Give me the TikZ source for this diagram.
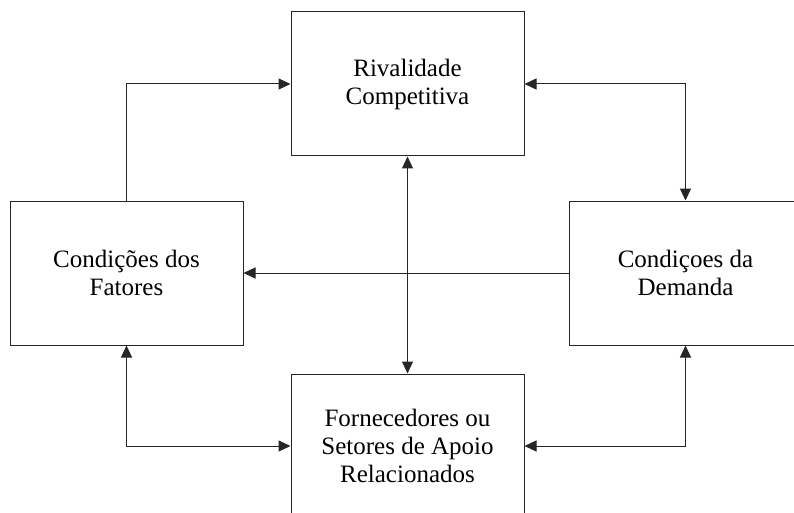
\documentclass[tikz,border=0pt]{standalone}
\usepackage{fontspec}
\setmainfont{Liberation Serif}
\usetikzlibrary{arrows.meta}
\begin{document}
\begin{tikzpicture}[x=1pt,y=-1pt,
  box/.style={draw=black!85, line width=1pt, minimum width=233pt, minimum height=144pt,
    align=center, font=\fontsize{25}{28}\selectfont, inner sep=0pt},
  link/.style={line width=1pt, draw=black!85, -{Triangle[length=12pt,width=11pt]}},
  bilink/.style={line width=1pt, draw=black!85, {Triangle[length=12pt,width=11pt]}-{Triangle[length=12pt,width=11pt]}}]
\useasboundingbox (0,0) rectangle (794,513);
\clip (0,0) rectangle (794,513);
\fill[white] (0,0) rectangle (794,513);
\node[box] (riv) at (407.5,84) {Rivalidade\\Competitiva};
\node[box] (fat) at (126.5,273) {Condições dos\\Fatores};
\node[box] (dem) at (685.5,273) {Condiçoes da\\Demanda};
\node[box] (sup) at (407.5,446) {Fornecedores ou\\Setores de Apoio\\Relacionados};
\draw[link] (fat.north) |- (riv.west);
\draw[bilink] (riv.east) -| (dem.north);
\draw[bilink] (riv.south) -- (sup.north);
\draw[link] (dem.west) -- (fat.east);
\draw[bilink] (fat.south) |- (sup.west);
\draw[bilink] (dem.south) |- (sup.east);
\end{tikzpicture}
\end{document}
